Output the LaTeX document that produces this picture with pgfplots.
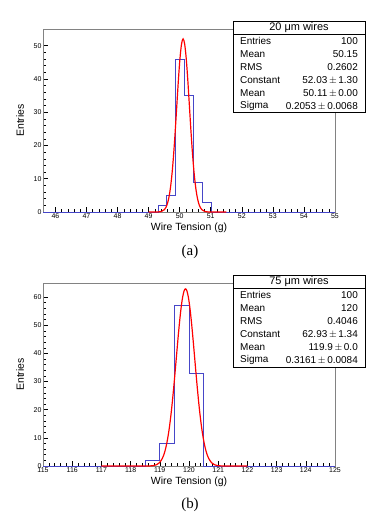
\documentclass[border=0pt]{standalone}
\usepackage{pgfplots}
\pgfplotsset{compat=1.18}
\usepackage{fontspec}
\setmainfont{Liberation Sans}
\newfontfamily\serif{Liberation Serif}
\definecolor{histblue}{RGB}{70,70,200}
\definecolor{framegray}{RGB}{130,130,130}

\pgfplotsset{
  rootstyle/.style={
    scale only axis, width=292bp, height=183bp,
    axis line style={framegray, line width=0.8pt},
    tick style={black, line width=0.5pt},
    tick align=inside, xtick pos=bottom, ytick pos=left,
    major tick length=5bp, minor tick length=3bp,
    minor x tick num=4, minor y tick num=4,
    ticklabel style={font=\fontsize{7}{8}\selectfont, black},
    /pgf/number format/assume math mode=true,
    xticklabel style={yshift=2bp},
    yticklabel style={xshift=2bp},
    xlabel style={font=\fontsize{10.5}{12}\selectfont, yshift=2bp},
    ylabel style={font=\fontsize{10.5}{12}\selectfont, yshift=3bp},
    xlabel={Wire Tension (g)}, ylabel={Entries},
    anchor=south west,
  }
}

\begin{document}
\begin{tikzpicture}
\path[use as bounding box] (0bp,0bp) rectangle (382bp,-527bp);

% ---- (a) 20 um wires
\begin{axis}[rootstyle, at={(43bp,-212bp)},
  xmin=45.6, xmax=55, ymin=0, ymax=55,
  xtick={46,47,...,55}, ytick={0,10,...,50}]
\addplot[const plot mark left, histblue, line width=0.8pt] coordinates {
  (45.6,0) (49.303,2) (49.588,5) (49.873,46) (50.158,35) (50.442,9) (50.727,3) (51.012,0) (55,0)};
\addplot[smooth, red, line width=1.2pt] coordinates {
  (49.00,0) (49.21,0.003) (49.31,0.026) (49.41,0.156) (49.51,0.727) (49.56,1.438)
  (49.61,2.68) (49.66,4.71) (49.71,7.80) (49.76,12.16) (49.81,17.89) (49.86,24.79)
  (49.91,32.37) (49.96,39.84) (50.01,46.21) (50.06,50.51) (50.11,52.03) (50.16,50.51)
  (50.21,46.21) (50.26,39.84) (50.31,32.37) (50.36,24.79) (50.41,17.89) (50.46,12.16)
  (50.51,7.80) (50.56,4.71) (50.61,2.68) (50.66,1.438) (50.71,0.727) (50.81,0.156)
  (50.91,0.026) (51.01,0.003) (51.50,0)};
\end{axis}

% ---- (b) 75 um wires
\begin{axis}[rootstyle, at={(43bp,-466bp)},
  xmin=115, xmax=125, ymin=0, ymax=65,
  xtick={115,116,...,125}, ytick={0,10,...,60}]
\addplot[const plot mark left, histblue, line width=0.8pt] coordinates {
  (115,0) (118.5,2) (119,8) (119.5,57) (120,33) (120.5,0) (125,0)};
\addplot[smooth, red, line width=1.2pt] coordinates {
  (117.00,0) (118.48,0.0035) (118.68,0.047) (118.78,0.148) (118.88,0.422) (118.98,1.093)
  (119.08,2.56) (119.13,3.77) (119.18,5.42) (119.23,7.60) (119.28,10.39) (119.33,13.85)
  (119.38,18.01) (119.43,22.84) (119.48,28.26) (119.53,34.09) (119.58,40.11) (119.63,46.03)
  (119.68,51.51) (119.73,56.23) (119.78,59.86) (119.83,62.15) (119.88,62.93) (119.93,62.15)
  (119.98,59.86) (120.03,56.23) (120.08,51.51) (120.13,46.03) (120.18,40.11) (120.23,34.09)
  (120.28,28.26) (120.33,22.84) (120.38,18.01) (120.43,13.85) (120.48,10.39) (120.53,7.60)
  (120.58,5.42) (120.63,3.77) (120.68,2.56) (120.78,1.093) (120.88,0.422) (120.98,0.148)
  (121.08,0.047) (121.28,0.0035) (122.00,0)};
\end{axis}

% ---- stats boxes
\begin{scope}[font=\fontsize{10}{11}\selectfont]
  % top
  \draw[fill=white, line width=0.6pt] (233bp,-21bp) rectangle (365bp,-112bp);
  \draw[line width=0.5pt] (233bp,-34bp) -- (365bp,-34bp);
  \node[font=\fontsize{11}{12}\selectfont] at (299bp,-27.5bp) {20 μm wires};
  \foreach \y/\a/\b in {-41/Entries/100, -54/Mean/50.15, -67/RMS/0.2602,
      -80/Constant/{52.03\,$\pm$\,1.30}, -93/Mean/{50.11\,$\pm$\,0.00},
      -106/Sigma/{0.2053\,$\pm$\,0.0068}} {
    \node[anchor=west, inner sep=0pt] at (240bp,\y bp) {\a};
    \node[anchor=east, inner sep=0pt] at (358bp,\y bp) {\b};
  }
  % bottom
  \draw[fill=white, line width=0.6pt] (233bp,-275bp) rectangle (365bp,-367bp);
  \draw[line width=0.5pt] (233bp,-288.5bp) -- (365bp,-288.5bp);
  \node[font=\fontsize{11}{12}\selectfont] at (299bp,-281.5bp) {75 μm wires};
  \foreach \y/\a/\b in {-295/Entries/100, -308/Mean/120, -321/RMS/0.4046,
      -334/Constant/{62.93\,$\pm$\,1.34}, -347/Mean/{119.9\,$\pm$\,0.0},
      -360/Sigma/{0.3161\,$\pm$\,0.0084}} {
    \node[anchor=west, inner sep=0pt] at (240bp,\y bp) {\a};
    \node[anchor=east, inner sep=0pt] at (358bp,\y bp) {\b};
  }
\end{scope}

\node[font=\serif\fontsize{15}{16}\selectfont] at (190bp,-252bp) {(a)};
\node[font=\serif\fontsize{15}{16}\selectfont] at (190bp,-505bp) {(b)};
\end{tikzpicture}
\end{document}
